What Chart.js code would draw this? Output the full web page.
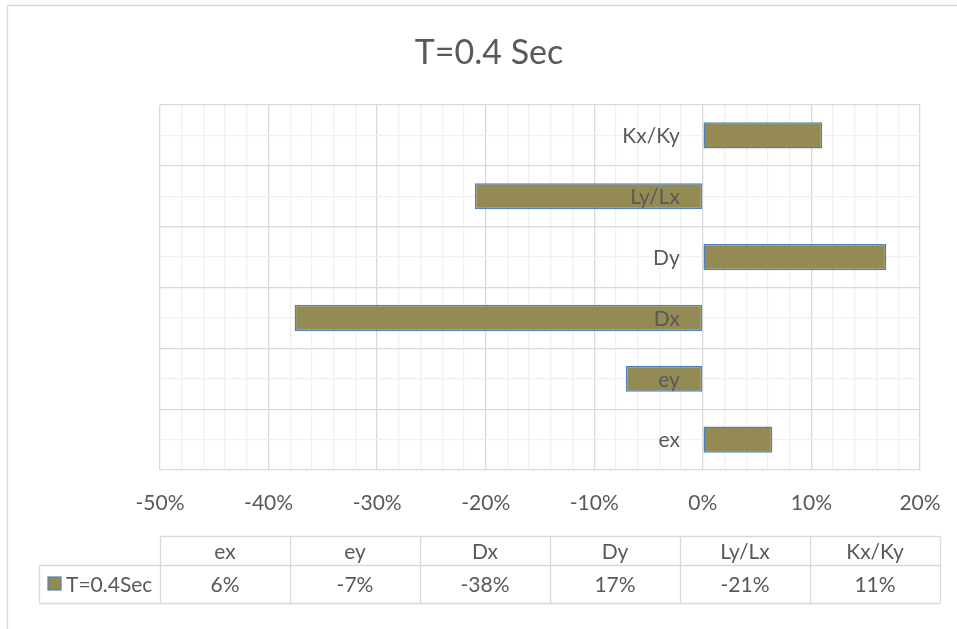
<!DOCTYPE html>
<html>
<head>
<meta charset="utf-8">
<script src="https://cdn.jsdelivr.net/npm/chart.js@4.4.1/dist/chart.umd.min.js"></script>
<style>
  html, body { margin: 0; padding: 0; background: #fff; }
  #wrap { width: 957px; height: 629px; }
</style>
</head>
<body>
<div id="wrap"><canvas id="grafik" width="957" height="629"></canvas></div>
<script>
// values (percent)
const categories = ["ex", "ey", "Dx", "Dy", "Ly/Lx", "Kx/Ky"];
const values = [6.4, -7.1, -37.6, 16.9, -21.0, 11.0];
const seriesName = "T=0.4Sec";
const chartTitle = "T=0.4 Sec";
const xMin = -50;
const xMax = 20;

const textColor = "#595959";
const majorGrid = "#d9d9d9";
const minorGrid = "#f0f0f0";
const fontFam = "Lato, 'Open Sans', sans-serif";

const extras = {
  id: "extras",
  beforeDraw(chart) {
    const ctx = chart.ctx;
    ctx.save();
    ctx.fillStyle = "#fff";
    ctx.fillRect(0, 0, chart.width, chart.height);
    // outer frame
    ctx.strokeStyle = majorGrid;
    ctx.lineWidth = 1.3;
    ctx.beginPath();
    ctx.moveTo(7.5, chart.height);
    ctx.lineTo(7.5, 5.5);
    ctx.lineTo(chart.width, 5.5);
    ctx.stroke();
    ctx.restore();
  },
  afterDraw(chart) {
    const ctx = chart.ctx;
    const xs = chart.scales.x;
    const ys = chart.scales.y;
    const area = chart.chartArea;
    ctx.save();

    // title
    ctx.fillStyle = textColor;
    ctx.font = "34px " + fontFam;
    ctx.textAlign = "center";
    ctx.textBaseline = "middle";
    ctx.fillText(chartTitle, 489, 53);

    // category labels next to the zero line
    ctx.font = "21px " + fontFam;
    ctx.textAlign = "right";
    const zeroX = xs.getPixelForValue(0);
    categories.forEach((c, i) => {
      ctx.fillText(c, zeroX - 23, ys.getPixelForValue(i) + 1);
    });

    // data table
    const tLeft = area.left;
    const colW = (area.right + 20 - tLeft) / categories.length;
    const tRight = tLeft + colW * categories.length;
    const top = area.bottom + 66.5;
    const mid = area.bottom + 95.5;
    const bot = area.bottom + 133.5;
    const legLeft = 39.5;

    ctx.strokeStyle = majorGrid;
    ctx.lineWidth = 1.3;
    ctx.beginPath();
    ctx.moveTo(tLeft, top); ctx.lineTo(tRight, top);
    ctx.moveTo(legLeft, mid); ctx.lineTo(tRight, mid);
    ctx.moveTo(legLeft, bot); ctx.lineTo(tRight, bot);
    ctx.moveTo(legLeft, mid); ctx.lineTo(legLeft, bot);
    for (let i = 0; i <= categories.length; i++) {
      const x = Math.round(tLeft + i * colW) + 0.5;
      ctx.moveTo(x, top); ctx.lineTo(x, bot);
    }
    ctx.stroke();

    ctx.textAlign = "center";
    categories.forEach((c, i) => {
      const cx = tLeft + (i + 0.5) * colW;
      ctx.fillText(c, cx, (top + mid) / 2 + 1);
      ctx.fillText(Math.round(values[i]) + "%", cx, (mid + bot) / 2 + 1);
    });

    // legend key
    const ds = chart.data.datasets[0];
    ctx.fillStyle = ds.backgroundColor;
    ctx.fillRect(48, 577, 13, 13);
    ctx.strokeStyle = ds.borderColor;
    ctx.lineWidth = 1.2;
    ctx.strokeRect(48, 577, 13, 13);
    ctx.fillStyle = textColor;
    ctx.textAlign = "left";
    ctx.fillText(seriesName, 66, (mid + bot) / 2 + 1);

    ctx.restore();
  }
};

const ctxGrafik = document.getElementById("grafik");
new Chart(ctxGrafik, {
  type: "bar",
  data: {
    labels: categories,
    datasets: [{
      label: seriesName,
      data: values,
      backgroundColor: "#948A54",
      borderColor: "#4F81BD",
      borderWidth: 1.5,
      borderSkipped: false,
      barPercentage: 0.43,
      categoryPercentage: 1
    }]
  },
  options: {
    indexAxis: "y",
    responsive: false,
    animation: false,
    devicePixelRatio: 1,
    layout: { padding: { left: 0, right: 37, top: 105, bottom: 0 } },
    plugins: {
      legend: { display: false },
      title: { display: false },
      tooltip: { enabled: false }
    },
    scales: {
      x: {
        type: "linear",
        min: xMin,
        max: xMax,
        afterFit: (s) => {
          s.height = 159;
          s.paddingLeft = 0;
          s.paddingRight = 0;
        },
        border: { display: false },
        grid: {
          drawTicks: false,
          lineWidth: 1.3,
          color: (c) => (Math.round(c.tick.value) % 10 === 0 ? majorGrid : minorGrid)
        },
        ticks: {
          stepSize: 2,
          autoSkip: false,
          maxRotation: 0,
          padding: 21,
          color: textColor,
          font: { family: fontFam, size: 21 },
          callback: (v) => (Math.round(v) % 10 === 0 ? Math.round(v) + "%" : "")
        }
      },
      yMinor: {
        type: "category",
        position: "left",
        labels: categories,
        reverse: true,
        offset: true,
        afterFit: (s) => { s.width = 0; },
        border: { display: false },
        grid: { offset: false, drawTicks: false, color: minorGrid, lineWidth: 1.3 },
        ticks: { display: false }
      },
      y: {
        type: "category",
        position: "left",
        reverse: true,
        offset: true,
        afterFit: (s) => { s.width = 160; },
        border: { display: false },
        grid: { offset: true, drawTicks: false, color: majorGrid, lineWidth: 1.3 },
        ticks: { display: false }
      }
    }
  },
  plugins: [extras]
});
</script>
</body>
</html>
